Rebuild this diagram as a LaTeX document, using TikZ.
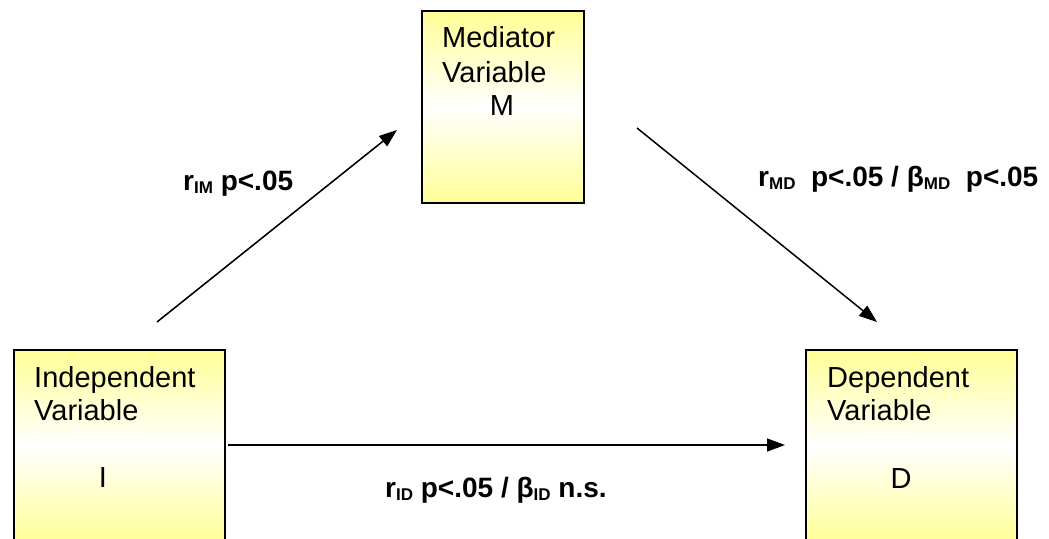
\documentclass[tikz,border=0pt]{standalone}
\usepackage{fontspec}
\setmainfont{Liberation Sans}
\usetikzlibrary{arrows.meta}
\definecolor{ylw}{RGB}{255,255,150}
\newcommand{\idx}[1]{\raisebox{-3.5pt}{\fontsize{17}{17}\selectfont #1}}

\begin{document}
\begin{tikzpicture}[x=1pt,y=-1pt,
  varbox/.style={draw=black,line width=2pt,top color=ylw,bottom color=ylw,middle color=white,
    anchor=north west,inner sep=0pt},
  boxtext/.style={anchor=base west,inner sep=0pt,font=\fontsize{29}{34}\selectfont},
  pathlabel/.style={anchor=base west,inner sep=0pt,font=\fontsize{28}{34}\selectfont\bfseries},
  conn/.style={line width=1.5pt,-{Triangle[length=18pt,width=13pt]}}]
\clip (0,0) rectangle (1049,538);
% the three variables
\node[varbox,minimum width=162pt,minimum height=192pt] (med) at (421,10) {};
\node[varbox,minimum width=211pt,minimum height=192pt] (indep) at (13,349) {};
\node[varbox,minimum width=211pt,minimum height=192pt] (dep) at (805,349) {};
\node[boxtext] (med1) at (442,47) {Mediator};
\node[boxtext] (med2) at (442,82) {Variable};
\node[boxtext,anchor=base] (med3) at (502,115) {M};
\node[boxtext] (indep1) at (34,387) {Independent};
\node[boxtext] (indep2) at (34,420) {Variable};
\node[boxtext,anchor=base] (indep3) at (103,487) {I};
\node[boxtext] (dep1) at (827,387) {Dependent};
\node[boxtext] (dep2) at (827,420) {Variable};
\node[boxtext,anchor=base] (dep3) at (901,488) {D};
% paths
\coordinate (im-a) at (157,322);
\coordinate (im-b) at (397,130);
\coordinate (md-a) at (637,128);
\coordinate (md-b) at (877,322);
\coordinate (id-a) at (228,445);
\coordinate (id-b) at (785,445);
\draw[conn] (im-a) -- (im-b);
\draw[conn] (md-a) -- (md-b);
\draw[conn] (id-a) -- (id-b);
\node[pathlabel] (lblim) at (183,190) {r\idx{IM} p<.05};
\node[pathlabel] (lblmd) at (758,186) {r\idx{MD}\ \ p<.05 / β\idx{MD}\ \ p<.05};
\node[pathlabel] (lblid) at (385,497) {r\idx{ID} p<.05 / β\idx{ID} n.s.};
\end{tikzpicture}
\end{document}
